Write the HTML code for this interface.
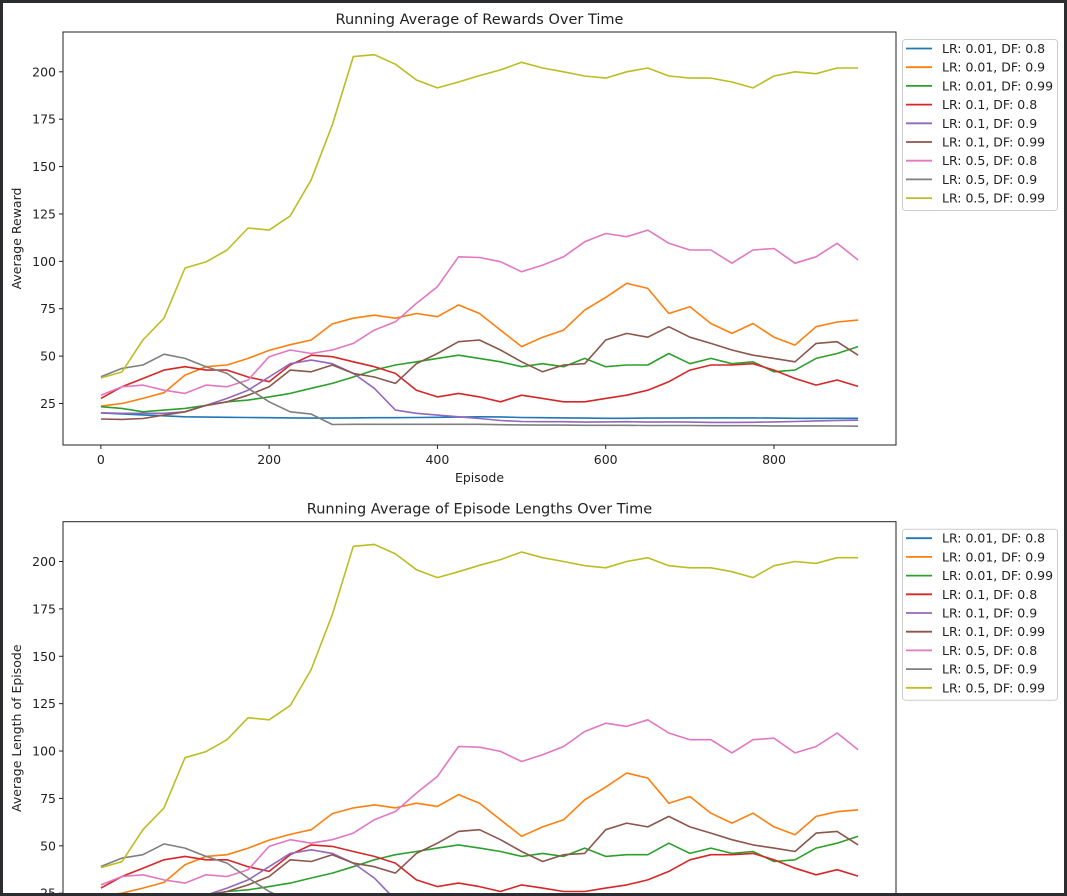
<!DOCTYPE html>
<html><head><meta charset="utf-8"><style>
html,body{margin:0;padding:0;background:#fff}
#wrap{position:relative;width:1067px;height:896px;overflow:hidden;background:#fff}
#frame{position:absolute;left:0;top:0;width:1061px;height:890px;border:3px solid #2b2d30;pointer-events:none}
svg text{font-family:"DejaVu Sans","Liberation Sans",sans-serif;fill:#222}
</style></head><body>
<div id="wrap">
<svg id="chart" width="1067" height="896"></svg>
<div id="frame"></div>
</div>
<script>
const episodes=[0,25,50,75,100,125,150,175,200,225,250,275,300,325,350,375,400,425,450,475,500,525,550,575,600,625,650,675,700,725,750,775,800,825,850,875,900];
const labels=["LR: 0.01, DF: 0.8","LR: 0.01, DF: 0.9","LR: 0.01, DF: 0.99","LR: 0.1, DF: 0.8","LR: 0.1, DF: 0.9","LR: 0.1, DF: 0.99","LR: 0.5, DF: 0.8","LR: 0.5, DF: 0.9","LR: 0.5, DF: 0.99"];
const colors=["#1f77b4","#ff7f0e","#2ca02c","#d62728","#9467bd","#8c564b","#e377c2","#7f7f7f","#bcbd22"];
const s1=[20,19.5,19,18.5,18,17.8,17.7,17.6,17.5,17.4,17.3,17.3,17.4,17.5,17.5,17.6,17.7,17.8,18,17.9,17.6,17.5,17.4,17.3,17.2,17.2,17.3,17.3,17.4,17.4,17.4,17.4,17.3,17.2,17.2,17.2,17.2];
const s2=[23.6,25,27.7,30.7,40,44.4,45.3,48.8,53,56,58.5,67,70,71.6,70,72.5,70.8,77,72.5,63.7,55,60,63.7,74.3,81,88.4,85.7,72.5,76,67.2,62,67.2,60,55.8,65.5,68,69];
const s3=[23.3,22.4,20.6,21.5,22.4,24,25.9,26.8,28.5,30.3,33,35.6,39,42.6,45.3,47,48.8,50.5,48.8,47,44.4,46,44.4,48.8,44.4,45.3,45.3,51.4,46,48.8,46,47,41.7,42.6,48.8,51.4,55];
const s4=[27.7,33.8,38.2,42.6,44.4,42.6,42.6,39,36.5,45.3,50.5,49.7,47,44.4,40.9,32,28.5,30.3,28.5,25.9,29.4,27.7,25.9,25.9,27.7,29.4,32,36.5,42.6,45.3,45.3,46,42.6,38.2,34.7,37.4,34];
const s5=[20.1,19.8,19.8,19.8,20.6,24,27.7,32,39,46,47.9,46,40.9,33,21.5,19.8,18.9,18,17.1,16,15.5,15.4,15.4,15.2,15.3,15.4,15.2,15.3,15.2,15,15,15.1,15.3,15.5,15.8,16,16.2];
const s6=[16.8,16.6,17.1,18.9,20.6,24,25.9,29.4,33.8,42.6,41.7,45.3,40.9,39,35.6,46,51.4,57.6,58.5,53.2,47,41.7,45.3,46,58.5,62,60,65.5,60,56.7,53.2,50.5,48.8,47,56.7,57.6,50.5];
const s7=[29.4,33.8,34.7,32,30.3,34.7,33.8,37.4,49.7,53.2,51.4,53.2,56.7,63.7,68.1,77.8,86.6,102.4,102,99.8,94.5,98,102.4,110.3,114.7,113,116.5,109.5,106,106,99,106,106.8,99,102.4,109.5,100.7];
const s8=[39.1,43.5,45.3,51,48.8,44.4,40.9,33,25.9,20.6,19.4,13.9,14,14,14,14,14,14,14,13.8,13.7,13.6,13.6,13.5,13.5,13.5,13.4,13.4,13.4,13.3,13.3,13.3,13.2,13.2,13.2,13.1,13];
const s9=[38.5,41.6,58.5,70,96.5,99.7,106,117.6,116.5,124,143,172,208,209,204,195.7,191.5,194.6,198,201,205,202,200,197.8,196.7,200,202,197.8,196.7,196.7,194.6,191.5,197.8,200,199,202,202];
const series=[s1,s2,s3,s4,s5,s6,s7,s8,s9];
const xTicks=[0,200,400,600,800];
const yTicks=[25,50,75,100,125,150,175,200];

const NS="http://www.w3.org/2000/svg";
const svg=document.getElementById('chart');
function mk(tag,attrs,parent){const e=document.createElementNS(NS,tag);for(const k in attrs)e.setAttribute(k,attrs[k]);(parent||svg).appendChild(e);return e;}
const L=63,R=896,H=413,X0=-45,X1=945,Y0=3.1,Y1=221;
function xs(v){return L+(v-X0)/(X1-X0)*(R-L);}

function drawPanel(top,title,ylabel,suffix,showX){
  const g=mk('g',{});
  
  
  const ys=v=>top+(Y1-v)/(Y1-Y0)*H;
  const cid='clip-'+suffix;
  const cp=mk('clipPath',{id:cid},g);mk('rect',{x:L,y:top,width:R-L,height:H},cp);
  const t=mk('text',{x:(L+R)/2,y:top-8,'text-anchor':'middle','font-size':'14.5'},g);t.textContent=title;
  
  
  const yl=mk('text',{x:0,y:0,'text-anchor':'middle','font-size':'12.5',transform:`translate(21,${top+H/2}) rotate(-90)`},g);yl.textContent=ylabel;
  
  
  yTicks.forEach(v=>{const y=ys(v);
    mk('line',{x1:L-4,x2:L,y1:y,y2:y,stroke:'#222','stroke-width':1},g);
    const tt=mk('text',{x:L-7,y:y+4.5,'text-anchor':'end','font-size':'12.5'},g);tt.textContent=v;
    
    
  });
  if(showX){
    xTicks.forEach(v=>{const x=xs(v);
      mk('line',{x1:x,x2:x,y1:top+H,y2:top+H+4,stroke:'#222','stroke-width':1},g);
      const tt=mk('text',{x:x,y:top+H+19,'text-anchor':'middle','font-size':'12.5'},g);tt.textContent=v;
      
      
    });
    const xl=mk('text',{x:(L+R)/2,y:top+H+37,'text-anchor':'middle','font-size':'12.5'},g);xl.textContent='Episode';
    
    
  }
  const lg=mk('g',{'clip-path':`url(#${cid})`},g);
  series.forEach((s,i)=>{
    const d=s.map((v,j)=>(j?'L':'M')+xs(episodes[j]).toFixed(1)+','+ys(v).toFixed(1)).join(' ');
    const p=mk('path',{d:d,fill:'none',stroke:colors[i],'stroke-width':1.6,'stroke-linejoin':'round'},lg);
    
    
  });
  const fr=mk('rect',{x:L,y:top,width:R-L,height:H,fill:'none',stroke:'#222','stroke-width':1},g);
  
  
  const leg=mk('g',{},g);
  
  
  mk('rect',{x:902.5,y:top+7.5,width:155,height:171,rx:3,fill:'#fff',stroke:'#ccc','stroke-width':1},leg);
  labels.forEach((lab,i)=>{const y=top+16.5+i*18.7;
    const e=mk('g',{},leg);
    
    
    mk('line',{x1:906,x2:932,y1:y,y2:y,stroke:colors[i],'stroke-width':1.8},e);
    const tt=mk('text',{x:942,y:y+4.5,'font-size':'12.5'},e);tt.textContent=lab;
  });
}
drawPanel(32,'Running Average of Rewards Over Time','Average Reward','rewards',true);
drawPanel(521.7,'Running Average of Episode Lengths Over Time','Average Length of Episode','lengths',false);
</script>
</body></html>
